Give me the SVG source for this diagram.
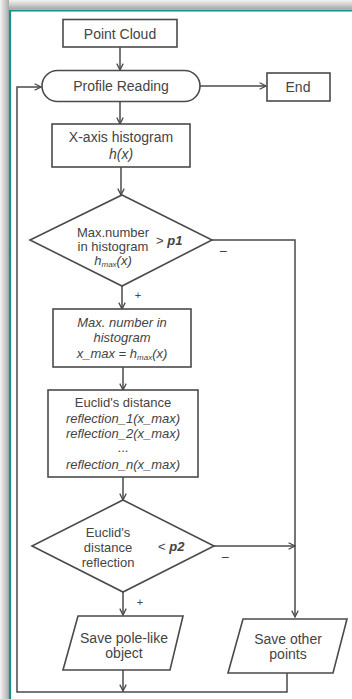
<svg xmlns="http://www.w3.org/2000/svg" width="352" height="699" viewBox="0 0 352 699">
<defs>
<linearGradient id="shTop" x1="0" y1="0" x2="0" y2="1">
<stop offset="0" stop-color="#f4f4f4"/>
<stop offset="0.6" stop-color="#c8c8c8"/>
<stop offset="1" stop-color="#a8a8a8"/>
</linearGradient>
<linearGradient id="shLeft" x1="0" y1="0" x2="1" y2="0">
<stop offset="0" stop-color="#f4f4f4"/>
<stop offset="0.6" stop-color="#c8c8c8"/>
<stop offset="1" stop-color="#a8a8a8"/>
</linearGradient>
<marker id="arr" viewBox="0 0 10 10" refX="9" refY="5" markerWidth="8" markerHeight="8" markerUnits="userSpaceOnUse" orient="auto">
<path d="M1,1 L9,5 L1,9" fill="none" stroke="#4a4a4a" stroke-width="1.6"/>
</marker>
<style>
.n{fill:#fff;stroke:#4a4a4a;stroke-width:1.6}
.c{fill:none;stroke:#4a4a4a;stroke-width:1.5}
.t{font-family:"Liberation Sans",Arial,sans-serif;font-size:14px;fill:#444;text-anchor:middle}
.m{font-size:13px}
.i{font-style:italic}
.s{font-size:8px}
.b{font-weight:bold;font-style:italic}
.l{text-anchor:start}
</style>
</defs>
<rect x="0" y="0" width="352" height="699" fill="#fff"/>
<rect x="0" y="0" width="352" height="9" fill="url(#shTop)"/>
<rect x="0" y="0" width="9" height="699" fill="url(#shLeft)"/>
<path d="M10,699 V10.5 H352" fill="none" stroke="#15908e" stroke-width="2.2"/>

<g id="connectors">
<path class="c" d="M120,47 V70" marker-end="url(#arr)"/>
<path class="c" d="M200,86 H266" marker-end="url(#arr)"/>
<path class="c" d="M120,102 V124" marker-end="url(#arr)"/>
<path class="c" d="M121,167 V195" marker-end="url(#arr)"/>
<path class="c" d="M212,240 H295 V617" marker-end="url(#arr)"/>
<path class="c" d="M122,286 V309" marker-end="url(#arr)"/>
<path class="c" d="M123,367 V390" marker-end="url(#arr)"/>
<path class="c" d="M123,477 V500" marker-end="url(#arr)"/>
<path class="c" d="M214,546 H295" marker-end="url(#arr)"/>
<path class="c" d="M123,592 V615" marker-end="url(#arr)"/>
<path class="c" d="M123,670 V691" marker-end="url(#arr)"/>
<path class="c" d="M287,673 V692 H17 V87 H41" marker-end="url(#arr)"/>
<text class="t" x="223" y="256">−</text>
<text class="t" x="138" y="299" style="font-size:11px">+</text>
<text class="t" x="225" y="562">−</text>
<text class="t" x="140" y="606" style="font-size:11px">+</text>
</g>

<g id="point-cloud">
<rect class="n" x="63" y="19.5" width="114" height="27.5"/>
<text class="t" x="120" y="39">Point Cloud</text>
</g>
<g id="profile-reading">
<rect class="n" x="42" y="70.5" width="158" height="31" rx="15.5" ry="15.5"/>
<text class="t" x="121" y="91">Profile Reading</text>
</g>
<g id="end">
<rect class="n" x="267" y="73" width="63" height="28"/>
<text class="t" x="298" y="92">End</text>
</g>
<g id="x-histogram">
<rect class="n" x="52" y="124" width="138" height="43"/>
<text class="t" x="121" y="142">X-axis histogram</text>
<text class="t i" x="121" y="159">h(x)</text>
</g>
<g id="decision-p1">
<polygon class="n" points="122,195 212,240 122,286 30,240"/>
<text class="t m" x="113" y="237">Max.number</text>
<text class="t m" x="113" y="251">in histogram</text>
<text class="t m i" x="113" y="265">h<tspan class="s" dy="2">max</tspan><tspan dy="-2">(x)</tspan></text>
<text class="t m l" x="156" y="245">&gt; <tspan class="b">p1</tspan></text>
</g>
<g id="max-number">
<rect class="n" x="53" y="309" width="138" height="58"/>
<text class="t m i" x="122" y="327">Max. number in</text>
<text class="t m i" x="122" y="342">histogram</text>
<text class="t m i" x="122" y="358">x_max = h<tspan class="s" dy="2">max</tspan><tspan dy="-2">(x)</tspan></text>
</g>
<g id="euclid-distance">
<rect class="n" x="48" y="390" width="150" height="87"/>
<text class="t m" x="123" y="407">Euclid's distance</text>
<text class="t m i" x="123" y="423">reflection_1(x_max)</text>
<text class="t m i" x="123" y="438">reflection_2(x_max)</text>
<text class="t m" x="123" y="452">...</text>
<text class="t m i" x="123" y="469">reflection_n(x_max)</text>
</g>
<g id="decision-p2">
<polygon class="n" points="123,500 214,546 123,592 32,546"/>
<text class="t m" x="108" y="537">Euclid's</text>
<text class="t m" x="108" y="552">distance</text>
<text class="t m" x="108" y="567">reflection</text>
<text class="t m l" x="158" y="551">&lt; <tspan class="b">p2</tspan></text>
</g>
<g id="save-pole">
<polygon class="n" points="78,616 183,616 170,670 63,670"/>
<text class="t" x="124" y="643">Save pole-like</text>
<text class="t" x="124" y="658">object</text>
</g>
<g id="save-other">
<polygon class="n" points="243,619 347,619 333,673 228,673"/>
<text class="t" x="288" y="644">Save other</text>
<text class="t" x="288" y="659">points</text>
</g>
</svg>
